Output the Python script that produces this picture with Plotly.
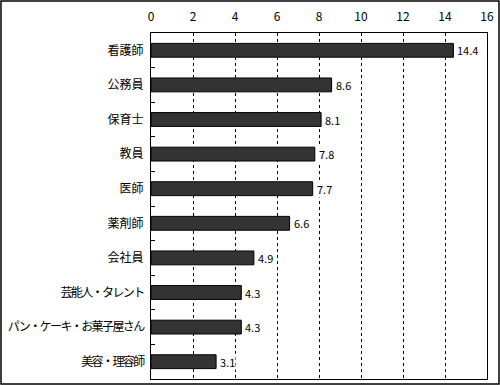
import plotly.graph_objects as go

categories = ["看護師", "公務員", "保育士", "教員", "医師", "薬剤師", "会社員",
              "芸能人・タレント", "パン・ケーキ・お菓子屋さん", "美容・理容師"]
values = [14.4, 8.6, 8.1, 7.8, 7.7, 6.6, 4.9, 4.3, 4.3, 3.1]
x_ticks = [0, 2, 4, 6, 8, 10, 12, 14, 16]

W, H = 500, 385
ml, mr, mt, mb = 151, 13, 33, 6
pw, ph = W - ml - mr, H - mt - mb

# tighten the middle-dot spacing in labels (original uses half-width dots)
ticktext = [
    f'<span style="letter-spacing:-1.6px">{c}</span>' if "・" in c else c
    for c in categories
]

fig = go.Figure(go.Bar(
    y=categories, x=values, orientation="h",
    marker=dict(color="#333333", line=dict(color="#000000", width=1)),
))

# value labels with white background (they hide the gridlines, as in the original)
for c, v in zip(categories, values):
    fig.add_annotation(x=v, y=c, xref="x", yref="y", text=f"{v}",
                       showarrow=False, xanchor="left", xshift=3,
                       font=dict(size=11, color="#000000"),
                       bgcolor="white", borderpad=0)

font = "Noto Sans CJK JP, sans-serif"
fig.update_layout(
    width=W, height=H,
    margin=dict(l=ml, r=mr, t=mt, b=mb),
    paper_bgcolor="white", plot_bgcolor="white",
    font=dict(family=font, size=12, color="#000000"),
    bargap=0.6,
    showlegend=False,
    xaxis=dict(range=[0, 16], tickvals=x_ticks, side="top", automargin=False,
               showgrid=True, gridcolor="#000000", griddash="3px,3px", gridwidth=1,
               showline=True, linecolor="#000000", linewidth=1, mirror=True,
               ticks="", zeroline=False, tickfont=dict(size=12), ticklabelstandoff=6),
    yaxis=dict(categoryorder="array", categoryarray=categories, autorange="reversed",
               tickvals=categories, ticktext=ticktext, automargin=False,
               showline=True, linecolor="#000000", linewidth=1, mirror=True,
               ticks="inside", ticklen=4, tickcolor="#000000", tickson="boundaries",
               showgrid=False, tickfont=dict(size=12), ticklabelstandoff=4),
)

# outer frame around the whole chart
x0 = (1 - ml) / pw
x1 = (W - 1 - ml) / pw
y0 = -(mb - 1) / ph
y1 = 1 + (mt - 1) / ph
fig.add_shape(type="rect", xref="paper", yref="paper",
              x0=x0, x1=x1, y0=y0, y1=y1,
              line=dict(color="#000000", width=1.5), layer="above")

fig.write_html("out.html")
